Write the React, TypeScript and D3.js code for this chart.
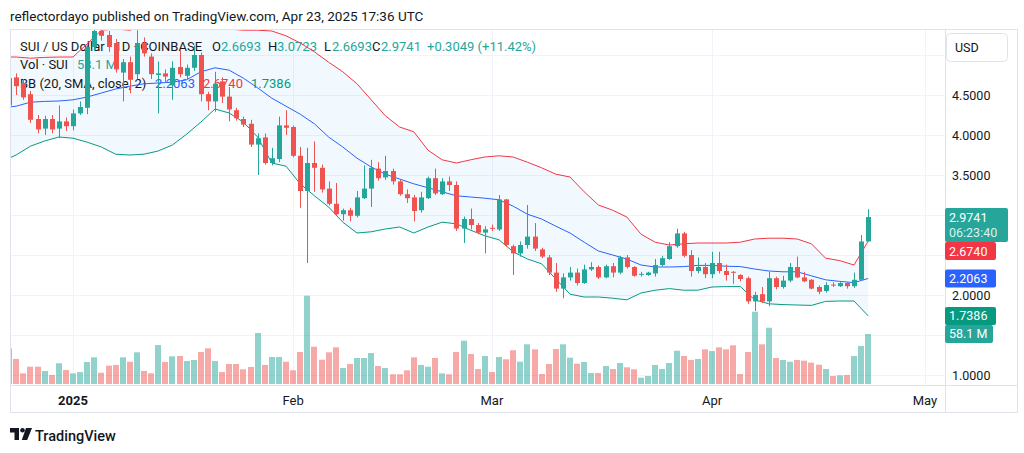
import React from 'react'
import * as d3 from 'd3'

// SUI / USD daily candles, Dec 23 2024 .. Apr 23 2025 (COINBASE)
const firstDay = Date.UTC(2024, 11, 23)

const opens = [4.37, 4.72, 4.65, 4.51, 4.20, 4.08, 4.20, 4.08, 4.17, 4.11, 4.27,
  4.34, 5.10, 5.30, 5.25, 5.15, 4.78, 4.91, 4.76, 5.15, 4.98,
  4.75, 4.77, 4.62, 4.85, 4.74, 4.84, 5.00, 4.51, 4.42, 4.67,
  4.48, 4.31, 4.20, 4.14, 3.88, 3.97, 3.65, 3.70, 4.12, 4.10,
  3.74, 3.30, 3.65, 3.59, 3.33, 3.14, 3.01, 3.06, 2.99, 3.21,
  3.33, 3.58, 3.47, 3.55, 3.42, 3.26, 3.22, 3.06, 3.21, 3.46,
  3.26, 3.42, 3.375, 2.83, 2.95, 2.875, 2.78, 2.84, 2.82, 3.195,
  2.61, 2.52, 2.625, 2.73, 2.57, 2.47, 2.28, 2.08, 2.22, 2.28,
  2.15, 2.32, 2.35, 2.22, 2.36, 2.28, 2.47, 2.35, 2.255, 2.25,
  2.27, 2.375, 2.45, 2.61, 2.77, 2.50, 2.30, 2.35, 2.26, 2.40,
  2.30, 2.29, 2.25, 2.21, 1.92, 2.01, 1.92, 2.21, 2.10, 2.18,
  2.35, 2.22, 2.19, 2.10, 2.05, 2.13, 2.11, 2.15, 2.11, 2.19,
  2.6693]

const highs = [4.76, 4.77, 4.70, 4.55, 4.25, 4.24, 4.25, 4.37, 4.22, 4.32, 4.42,
  5.13, 5.36, 5.36, 5.30, 5.20, 4.95, 4.98, 5.31, 5.22, 5.02,
  4.92, 4.82, 4.92, 5.06, 4.88, 5.12, 5.03, 4.54, 4.79, 4.72,
  4.60, 4.34, 4.23, 4.19, 4.02, 4.02, 3.84, 4.23, 4.31, 4.12,
  3.85, 3.84, 3.92, 3.63, 3.42, 3.40, 3.08, 3.09, 3.30, 3.62,
  3.69, 3.66, 3.74, 3.58, 3.44, 3.32, 3.25, 3.29, 3.48, 3.58,
  3.46, 3.48, 3.42, 2.98, 3.08, 2.90, 2.86, 2.88, 3.25, 3.20,
  2.63, 2.67, 3.125, 2.90, 2.59, 2.50, 2.40, 2.27, 2.35, 2.33,
  2.38, 2.41, 2.37, 2.38, 2.40, 2.49, 2.50, 2.36, 2.29, 2.29,
  2.45, 2.49, 2.66, 2.83, 2.79, 2.56, 2.47, 2.40, 2.54, 2.54,
  2.38, 2.30, 2.26, 2.23, 2.04, 2.10, 2.29, 2.23, 2.24, 2.40,
  2.48, 2.29, 2.20, 2.12, 2.16, 2.16, 2.16, 2.16, 2.28, 2.75,
  3.0723]

const lows = [4.30, 4.50, 4.44, 4.15, 4.02, 4.00, 4.02, 3.96, 4.05, 4.06, 4.25,
  4.26, 5.05, 5.18, 5.04, 4.78, 4.42, 4.52, 4.70, 4.98, 4.70,
  4.27, 4.65, 4.44, 4.72, 4.70, 4.80, 4.42, 4.31, 4.29, 4.40,
  4.17, 4.18, 4.10, 3.85, 3.50, 3.63, 3.62, 3.66, 4.00, 3.72,
  3.09, 2.40, 3.29, 3.28, 3.12, 3.00, 2.93, 2.92, 2.97, 3.20,
  3.10, 3.43, 3.44, 3.38, 3.24, 3.15, 2.92, 3.03, 3.20, 3.25,
  3.25, 3.30, 2.80, 2.65, 2.82, 2.76, 2.52, 2.80, 2.80, 2.60,
  2.25, 2.48, 2.58, 2.55, 2.46, 2.25, 2.04, 1.96, 2.18, 2.12,
  2.14, 2.30, 2.20, 2.21, 2.22, 2.26, 2.33, 2.23, 2.23, 2.24,
  2.23, 2.36, 2.44, 2.59, 2.47, 2.23, 2.27, 2.21, 2.21, 2.27,
  2.18, 2.14, 2.17, 1.89, 1.80, 1.90, 1.86, 2.07, 2.08, 2.16,
  2.21, 2.16, 2.07, 2.01, 2.03, 2.10, 2.10, 2.08, 2.09, 2.18,
  2.6693]

const closes = [4.71, 4.61, 4.47, 4.19, 4.07, 4.20, 4.07, 4.17, 4.11, 4.27, 4.35,
  5.10, 5.30, 5.24, 5.10, 4.82, 4.91, 4.69, 5.15, 5.02, 4.76,
  4.77, 4.73, 4.84, 4.76, 4.84, 5.00, 4.51, 4.42, 4.64, 4.48,
  4.32, 4.21, 4.13, 3.88, 3.96, 3.65, 3.71, 4.12, 4.09, 3.74,
  3.30, 3.65, 3.59, 3.32, 3.14, 3.01, 3.06, 2.99, 3.22, 3.33,
  3.59, 3.46, 3.55, 3.42, 3.26, 3.21, 3.05, 3.22, 3.46, 3.27,
  3.42, 3.375, 2.83, 2.95, 2.875, 2.78, 2.82, 2.83, 3.195, 2.625,
  2.52, 2.625, 2.73, 2.58, 2.48, 2.28, 2.08, 2.22, 2.28, 2.15,
  2.32, 2.35, 2.22, 2.36, 2.28, 2.47, 2.35, 2.24, 2.265, 2.28,
  2.375, 2.46, 2.61, 2.77, 2.49, 2.30, 2.35, 2.26, 2.40, 2.30,
  2.25, 2.28, 2.20, 1.92, 2.00, 1.92, 2.21, 2.10, 2.18, 2.35,
  2.22, 2.17, 2.08, 2.04, 2.125, 2.12, 2.15, 2.11, 2.19, 2.6692,
  2.9741]

// volume in millions of SUI
const volumes = [41.5, 29.1, 12.4, 20.1, 20.1, 15.1, 10.5, 24.1, 16.3, 12.4, 13.9,
  25.6, 31.0, 13.1, 21.3, 22.1, 31.0, 25.9, 36.8, 15.1, 12.4,
  45.3, 25.6, 32.2, 32.5, 26.7, 27.9, 37.2, 41.5, 26.7, 13.9,
  23.2, 23.2, 17.1, 19.8, 59.3, 22.1, 31.4, 31.4, 25.9, 15.9,
  37.2, 102.6, 43.3, 28.2, 36.8, 42.6, 18.6, 23.2, 30.2, 30.2,
  36.0, 20.9, 18.6, 11.3, 11.3, 15.9, 31.0, 22.1, 20.1, 30.2,
  12.4, 11.3, 37.2, 50.3, 34.9, 17.4, 32.5, 13.9, 31.4, 28.7,
  39.2, 25.9, 46.1, 40.3, 11.6, 23.2, 40.7, 46.1, 30.6, 23.6,
  25.6, 12.8, 12.8, 20.9, 17.4, 24.4, 19.4, 17.1, 7.3, 9.3,
  22.1, 17.4, 24.4, 38.7, 32.5, 27.9, 29.1, 40.3, 38.3, 42.6,
  40.3, 45.0, 11.6, 37.2, 84.0, 46.1, 65.4, 30.2, 27.9, 25.9,
  27.9, 27.1, 24.8, 22.4, 17.4, 9.3, 10.1, 10.5, 32.5, 44.2,
  58.1]

// Bollinger Bands (20, SMA, close, 2), sampled on Dec 23 and then every second day from Dec 24
const bbUpper = [4.975, 4.975, 4.96, 4.97, 4.975, 4.975, 5.14, 5.31, 5.325, 5.31, 5.36, 5.44, 5.46,
  5.46, 5.44, 5.375, 5.325, 5.31, 5.31, 5.30, 5.24, 5.15, 5.04, 4.91, 4.79, 4.64, 4.44, 4.24,
  4.10, 4.04, 3.81, 3.69, 3.65, 3.69, 3.725, 3.74, 3.725, 3.66, 3.59, 3.51, 3.475, 3.29, 3.125,
  3.06, 2.975, 2.76, 2.66, 2.625, 2.64, 2.65, 2.65, 2.65, 2.66, 2.70, 2.71, 2.71, 2.70, 2.64,
  2.46, 2.43, 2.375, 2.674]
const bbBasis = [4.35, 4.36, 4.41, 4.42, 4.425, 4.44, 4.475, 4.525, 4.575, 4.61, 4.64, 4.65, 4.66,
  4.69, 4.79, 4.84, 4.81, 4.71, 4.59, 4.46, 4.36, 4.26, 4.14, 3.975, 3.85, 3.71, 3.60, 3.51,
  3.45, 3.39, 3.34, 3.29, 3.24, 3.225, 3.21, 3.19, 3.11, 3.01, 2.95, 2.86, 2.775, 2.66, 2.55,
  2.50, 2.45, 2.375, 2.35, 2.35, 2.355, 2.37, 2.37, 2.36, 2.355, 2.325, 2.30, 2.29, 2.29, 2.24,
  2.19, 2.17, 2.155, 2.2063]
const bbLower = [3.71, 3.75, 3.86, 3.925, 3.975, 3.96, 3.91, 3.85, 3.76, 3.75, 3.76, 3.80, 3.875,
  4.01, 4.16, 4.325, 4.275, 4.16, 3.975, 3.65, 3.61, 3.39, 3.24, 3.10, 2.91, 2.775, 2.79, 2.825,
  2.85, 2.775, 2.85, 2.91, 2.89, 2.81, 2.74, 2.69, 2.54, 2.45, 2.39, 2.20, 2.01, 1.975, 1.975,
  1.96, 1.94, 2.025, 2.06, 2.08, 2.06, 2.06, 2.10, 2.105, 2.105, 1.94, 1.89, 1.88, 1.875, 1.87,
  1.92, 1.925, 1.925, 1.7386]

const priceTicks = [1, 1.5, 2, 2.5, 3, 3.5, 4, 4.5, 5]
const monthTicks = ['2025-01-01', '2025-02-01', '2025-03-01', '2025-04-01', '2025-05-01']
const monthLabels = ['2025', 'Feb', 'Mar', 'Apr', 'May']

const UP = '#26a69a'
const DOWN = '#ef5350'
const TEXT = '#131722'
const GRID = '#f0f3fa'
const BORDER = '#e0e3eb'
const FONT = 'Roboto, "Liberation Sans", sans-serif'

const pane = { left: 10, right: 945, top: 29, bottom: 385 }
const DAY = 86400000

export default function App() {
  const dates = opens.map((_, i) => new Date(firstDay + i * DAY))
  const last = opens.length - 1

  const x = d3.scaleUtc()
    .domain([new Date(monthTicks[0]), new Date(monthTicks[4])])
    .range([73, 925])
  const y = d3.scaleLinear().domain([1, 4.5]).range([375, 95])
  const yVol = d3.scaleLinear()
    .domain([0, d3.max(volumes) as number])
    .range([pane.bottom - 1, pane.bottom - 89.3])

  const bandAt = [0, ...d3.range(1, opens.length, 2)]
  const band = bandAt.map((ci, k) => ({ t: dates[ci], up: bbUpper[k], mid: bbBasis[k], lo: bbLower[k] }))
  const fill = d3.area<any>().x(d => x(d.t)).y0(d => y(d.lo)).y1(d => y(d.up))(band)
  const bandLine = (key: string) => d3.line<any>().x(d => x(d.t)).y(d => y(d[key]))(band)

  const fmt = d3.format('.4f')
  const chg = closes[last] - closes[last - 1]
  const pct = chg / closes[last - 1] * 100

  // labels on the price scale, pushed down when they would overlap
  const tags = [
    { c: y(closes[last]), h: 34, w: 63, text: fmt(closes[last]), sub: '06:23:40', bg: UP },
    { c: y(bbUpper[bbUpper.length - 1]), h: 18, w: 51, text: fmt(bbUpper[bbUpper.length - 1]), bg: '#f23645' },
    { c: y(bbBasis[bbBasis.length - 1]), h: 18, w: 51, text: fmt(bbBasis[bbBasis.length - 1]), bg: '#2962ff' },
    { c: y(bbLower[bbLower.length - 1]), h: 18, w: 51, text: fmt(bbLower[bbLower.length - 1]), bg: '#089981' },
    { c: yVol(volumes[last]), h: 18, w: 48, text: volumes[last].toFixed(1) + ' M', bg: UP },
  ].sort((a, b) => a.c - b.c)
  let floor = -Infinity
  const placed = tags.map(t => {
    const top = Math.max(t.c - 9, floor)
    floor = top + t.h
    return { ...t, top }
  })
  const blocked = [{ top: 33, bottom: 62 }, ...placed.map(t => ({ top: t.top, bottom: t.top + t.h }))]
  const freeTick = (v: number) => {
    const c = y(v)
    return c > pane.top + 6 && !blocked.some(b => c + 6 > b.top && c - 6 < b.bottom)
  }

  const candleW = 5
  const volW = 6

  return (
    <svg width={1024} height={453} style={{ position: 'absolute', left: 0, top: 0, background: '#fff' }}
      fontFamily={FONT}>
      <defs>
        <clipPath id="pane">
          <rect x={pane.left} y={pane.top} width={pane.right - pane.left} height={pane.bottom - pane.top} />
        </clipPath>
      </defs>

      <text x={10} y={21} fontSize={13.5} fill={TEXT}>
        reflectordayo published on TradingView.com, Apr 23, 2025 17:36 UTC
      </text>

      {/* grid */}
      <g stroke={GRID} strokeWidth={1}>
        {priceTicks.map(v => (
          <line key={v} x1={pane.left} x2={pane.right} y1={Math.round(y(v)) + 0.5} y2={Math.round(y(v)) + 0.5} />
        ))}
        {monthTicks.map(m => (
          <line key={m} x1={Math.round(x(new Date(m))) + 0.5} x2={Math.round(x(new Date(m))) + 0.5}
            y1={pane.top} y2={pane.bottom} />
        ))}
      </g>

      <g clipPath="url(#pane)">
        <path d={fill ?? ''} fill="rgba(33,150,243,0.06)" />
      </g>

      {/* legend */}
      <g fontSize={13} fill={TEXT}>
        <text x={20} y={50.5}>SUI / US Dollar · 1D · COINBASE</text>
        <text x={212} y={50.5}>O</text>
        <text x={221} y={50.5} fill={UP}>{fmt(opens[last])}</text>
        <text x={268} y={50.5}>H</text>
        <text x={277} y={50.5} fill={UP}>{fmt(highs[last])}</text>
        <text x={324} y={50.5}>L</text>
        <text x={332} y={50.5} fill={UP}>{fmt(lows[last])}</text>
        <text x={372} y={50.5}>C</text>
        <text x={381} y={50.5} fill={UP}>{fmt(closes[last])}</text>
        <text x={427} y={50.5} fill={UP}>{`+${chg.toFixed(4)} (+${pct.toFixed(2)}%)`}</text>
        <text x={20} y={68.5}>Vol · SUI</text>
        <text x={77} y={68.5} fill={UP}>{volumes[last].toFixed(1) + ' M'}</text>
        <text x={20} y={87.5}>BB (20, SMA, close, 2)</text>
        <text x={155} y={87.5} fill="#2962ff">{fmt(bbBasis[bbBasis.length - 1])}</text>
        <text x={203} y={87.5} fill="#f23645">{fmt(bbUpper[bbUpper.length - 1])}</text>
        <text x={251} y={87.5} fill="#089981">{fmt(bbLower[bbLower.length - 1])}</text>
      </g>

      <g clipPath="url(#pane)">
        {/* volume */}
        {volumes.map((v, i) => {
          const cx = Math.round(x(dates[i]))
          return (
            <rect key={i} x={cx - volW / 2} width={volW} y={yVol(v)} height={yVol(0) - yVol(v)}
              fill={closes[i] >= opens[i] ? 'rgba(38,166,154,0.5)' : 'rgba(239,83,80,0.5)'} />
          )
        })}

        {/* bands */}
        <path d={bandLine('up') ?? ''} fill="none" stroke="#f23645" strokeWidth={1} />
        <path d={bandLine('mid') ?? ''} fill="none" stroke="#2962ff" strokeWidth={1} />
        <path d={bandLine('lo') ?? ''} fill="none" stroke="#089981" strokeWidth={1} />

        {/* candles */}
        {opens.map((o, i) => {
          const c = closes[i]
          const cx = Math.round(x(dates[i]))
          const col = c >= o ? UP : DOWN
          const top = y(Math.max(o, c))
          const h = Math.max(1, Math.abs(y(o) - y(c)))
          return (
            <g key={i} fill={col}>
              <rect x={cx} width={1} y={y(highs[i])} height={y(lows[i]) - y(highs[i])} />
              <rect x={cx - 2} width={candleW} y={top} height={h} />
            </g>
          )
        })}
      </g>

      {/* frame */}
      <g stroke={BORDER} fill="none">
        <rect x={pane.left + 0.5} y={pane.top + 0.5} width={1007} height={383} />
        <line x1={pane.right + 0.5} x2={pane.right + 0.5} y1={pane.top} y2={413} />
        <line x1={pane.left} x2={1018} y1={pane.bottom + 0.5} y2={pane.bottom + 0.5} />
      </g>

      {/* price scale */}
      <rect x={946.5} y={33.5} width={61} height={28} rx={4} fill="#fff" stroke={BORDER} />
      <text x={955} y={51.5} fontSize={12.5} fill={TEXT}>USD</text>
      <g fontSize={12.5} fill={TEXT}>
        {priceTicks.filter(freeTick).map(v => (
          <text key={v} x={952} y={y(v) + 4.5}>{fmt(v)}</text>
        ))}
      </g>
      {placed.map((t, i) => (
        <g key={i}>
          <rect x={945} y={t.top} width={t.w} height={t.h} rx={2} fill={t.bg} />
          <text x={949} y={t.top + 13.5} fontSize={12.5} fill="#fff">{t.text}</text>
          {t.sub && <text x={949} y={t.top + 29} fontSize={12.5} fill="rgba(255,255,255,0.85)">{t.sub}</text>}
        </g>
      ))}

      {/* time scale */}
      <g fontSize={13} fill={TEXT} textAnchor="middle">
        {monthTicks.map((m, i) => (
          <text key={m} x={x(new Date(m))} y={405} fontWeight={i === 0 ? 700 : 400}>{monthLabels[i]}</text>
        ))}
      </g>

      {/* TradingView mark */}
      <g fill={TEXT}>
        <path d="M10 428h9v12h-4.5v-7.5H10z" />
        <circle cx={22.5} cy={430.3} r={2.3} />
        <path d="M26 428h6l-4.8 12h-5.4z" />
        <text x={35} y={440.5} fontSize={14.5} fontWeight={500}>TradingView</text>
      </g>
    </svg>
  )
}
